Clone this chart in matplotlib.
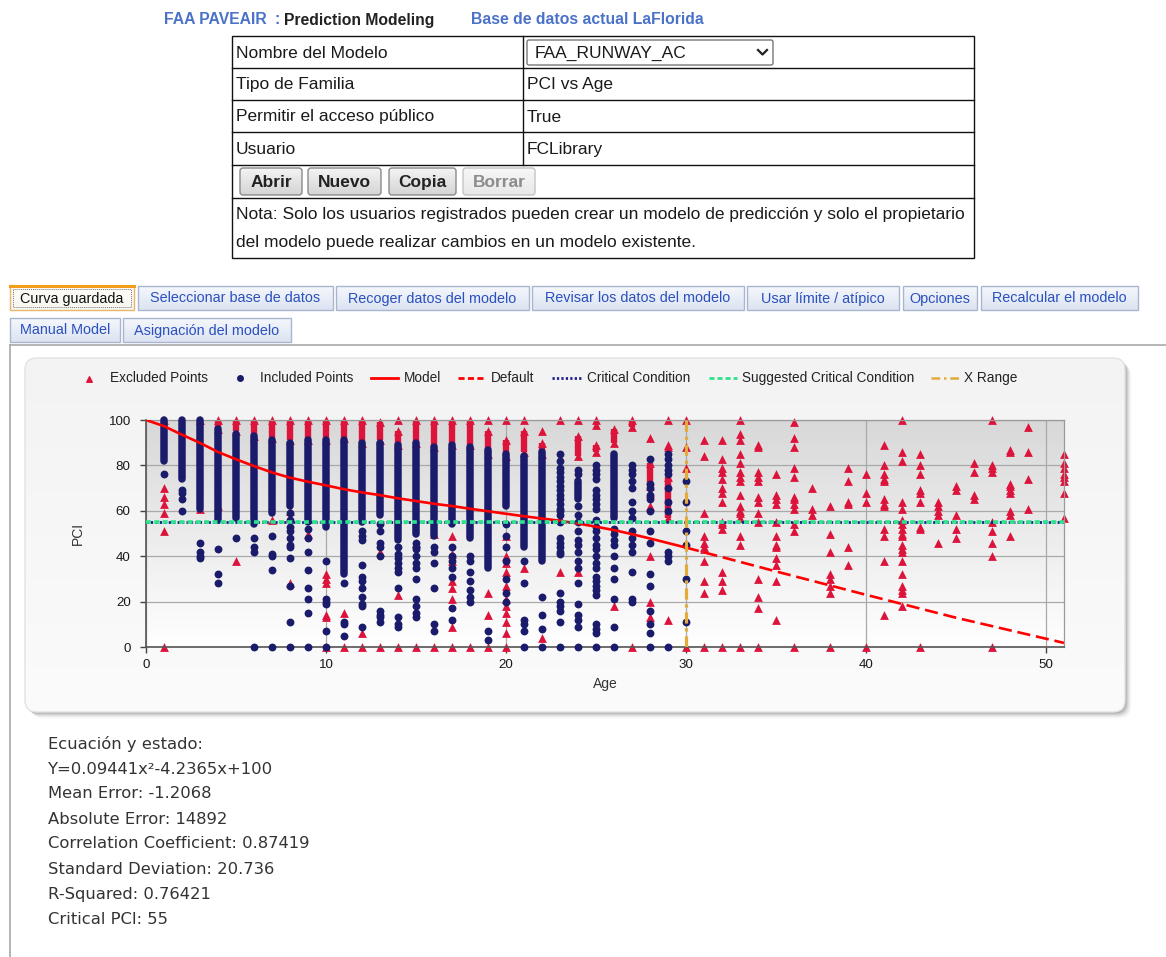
import matplotlib

matplotlib.use("Agg")
import matplotlib.pyplot as plt
import numpy as np
from matplotlib.colors import LinearSegmentedColormap
from matplotlib.patches import FancyBboxPatch, Rectangle

W, H = 1166, 957

plt.rcParams["font.family"] = ["Liberation Sans", "DejaVu Sans"]

# ---------------------------------------------------------------- data
model_age = list(range(0, 31))
model_pci = [100, 97.3, 93.5, 89.9, 85.9, 82.7, 79.7, 76.9, 74.6, 72.8, 71.2,
             69.5, 68.1, 66.9, 65.5, 64.3, 63.1, 62.1, 60.9, 59.8, 58.7,
             57.6, 56.6, 55.6, 54.4, 53.0, 51.5, 49.7, 47.8, 45.8, 43.8]
default_age = [30, 35, 40, 45, 51]
default_pci = [43.8, 33.3, 23.0, 12.9, 1.8]
critical_pci = 55
suggested_pci = 55
x_range_age = 30

# included points: tightly packed runs (age, low, high) plus single points
inc_band_age = [1, 2, 3, 4, 5, 6, 7, 8, 9, 10, 11, 12, 13, 14, 15, 16, 17, 18,
                19, 20, 21, 22, 24, 26]
inc_band_lo = [82, 74, 61, 56, 57, 54, 59, 62, 55, 53, 32, 55, 58, 47, 50, 49,
               54, 48, 35, 62, 44, 38, 65, 57]
inc_band_hi = [100, 100, 100, 96, 94, 93, 91, 90, 91, 91, 91, 90, 90, 89, 90,
               88, 89, 88, 87, 85, 84, 86, 73, 85]
inc_points = {
    1: [76],
    2: [69, 68, 65, 60],
    3: [46, 42, 40, 39],
    4: [43, 32, 28],
    5: [48],
    6: [48, 44, 42, 0],
    7: [49, 41, 40, 34, 0],
    8: [59, 56, 53, 51, 48, 45, 44, 39, 27, 11, 0],
    9: [52, 48, 42, 34, 26, 21, 15, 0],
    10: [38, 21, 20, 19, 7, 0],
    11: [28, 11, 10, 5],
    12: [51, 49, 47, 36, 31, 29, 26, 22, 19, 18, 9],
    13: [54, 51, 46, 44, 40, 16, 14, 13, 11],
    14: [44, 41, 39, 37, 35, 33, 26, 13, 10, 9],
    15: [46, 44, 43, 40, 37, 35, 30, 21, 18, 15, 13],
    16: [44, 42, 37, 26, 10, 7],
    17: [44, 40, 38, 35, 31, 17, 12],
    18: [40, 38, 33, 29, 25, 22, 20],
    19: [7, 3],
    20: [54, 49, 44, 38, 30, 24, 20],
    21: [38, 28, 12, 10, 7, 0],
    22: [22, 14, 8, 0],
    23: [85, 82, 79, 77, 75, 73, 71, 69, 67, 65, 63, 61, 60, 58, 55, 48, 46,
         44, 42, 41, 24, 20, 18, 16, 11, 0],
    24: [78, 76, 62, 58, 55, 51, 47, 45, 42, 38, 35, 28, 19, 14, 12, 9, 0],
    25: [80, 78, 76, 74, 69, 67, 65, 63, 61, 56, 53, 51, 48, 45, 43, 40, 37,
         35, 31, 29, 27, 25, 23, 10, 8, 6, 0],
    26: [52, 50, 47, 45, 40, 35, 30, 21, 9, 0],
    27: [80, 78, 76, 73, 70, 64, 60, 57, 51, 48, 45, 42, 33, 21, 20],
    28: [83, 72, 70, 67, 65, 60, 51, 46, 32, 27, 16, 10, 6, 0],
    29: [85, 83, 80, 78, 76, 70, 64, 60, 42, 40, 38, 0],
    30: [73, 64, 51, 45, 30, 11],
}

# excluded points: runs near the top of the scale plus single points
exc_band_age = [4, 5, 6, 7, 8, 9, 10, 11, 12, 13, 14, 15, 16, 17, 18, 19, 20,
                21, 22, 24, 25, 26, 27, 28, 29]
exc_band_lo = [96, 95, 93, 92, 91, 91, 91, 92, 90, 91, 89, 90, 88, 89, 89, 85,
               84, 86, 85, 84, 86, 90, 97, 71, 57]
exc_band_hi = [100, 100, 100, 100, 100, 100, 100, 100, 100, 99, 95, 100, 100,
               100, 100, 95, 91, 95, 90, 93, 89, 96, 100, 81, 75]
exc_points = {
    1: [100, 70, 66, 63, 59, 51, 0],
    3: [100, 61],
    4: [62],
    5: [38],
    7: [56],
    8: [60, 28],
    9: [50],
    10: [32, 30, 28, 14, 13, 0],
    11: [15, 0],
    12: [6, 0],
    13: [42, 0],
    14: [100, 23, 0],
    15: [46, 0],
    16: [50, 0],
    17: [49, 41, 38, 29, 26, 21, 9, 0],
    18: [0],
    19: [100, 24, 14, 0],
    20: [100, 49, 40, 37, 33, 27, 21, 18, 15, 11, 6, 0],
    21: [100, 35],
    22: [95, 4],
    23: [100, 33],
    24: [100, 33],
    25: [100, 98],
    26: [18],
    27: [0],
    28: [92, 68, 62, 40, 20, 13],
    29: [100, 89, 88, 12],
    30: [100, 88, 79, 0],
    31: [91, 84, 59, 49, 46, 44, 43, 38, 29, 24, 0],
    32: [91, 83, 79, 77, 74, 70, 68, 64, 55, 54, 52, 33, 29, 25, 0],
    33: [100, 94, 91, 85, 81, 77, 75, 73, 67, 62, 60, 59, 57, 49, 45, 0],
    34: [89, 88, 77, 75, 73, 66, 64, 59, 55, 30, 22, 17, 0],
    35: [76, 67, 65, 63, 55, 49, 45, 44, 39, 36, 29, 12],
    36: [99, 92, 88, 79, 75, 66, 65, 63, 61, 54, 51, 0],
    37: [70, 61, 58],
    38: [62, 50, 42, 32, 30, 27, 24, 0],
    39: [79, 73, 64, 63, 44, 36],
    40: [76, 68, 64, 0],
    41: [89, 80, 76, 74, 73, 65, 63, 62, 52, 49, 38, 14],
    42: [100, 86, 82, 64, 61, 56, 54, 52, 50, 49, 45, 43, 42, 38, 32, 27, 25,
         24, 18],
    43: [85, 80, 76, 69, 68, 64, 53, 52, 0],
    44: [64, 62, 60, 58, 46],
    45: [71, 69, 58, 52, 48],
    46: [81, 77, 67, 65],
    47: [100, 80, 79, 77, 55, 51, 46, 40, 0],
    48: [87, 86, 72, 71, 69, 68, 60, 58, 49],
    49: [97, 86, 74, 61],
    51: [85, 81, 79, 76, 75, 73, 68, 57],
}

stats_lines = [
    "Ecuación y estado:",
    "Y=0.09441x²-4.2365x+100",
    "Mean Error: -1.2068",
    "Absolute Error: 14892",
    "Correlation Coefficient: 0.87419",
    "Standard Deviation: 20.736",
    "R-Squared: 0.76421",
    "Critical PCI: 55",
]

table_labels = ["Nombre del Modelo", "Tipo de Familia",
                "Permitir el acceso público", "Usuario"]
table_values = ["FAA_RUNWAY_AC", "PCI vs Age", "True", "FCLibrary"]
button_labels = ["Abrir", "Nuevo", "Copia", "Borrar"]
note_lines = [
    "Nota: Solo los usuarios registrados pueden crear un modelo de predicción y solo el propietario",
    "del modelo puede realizar cambios en un modelo existente.",
]
tabs_row1 = ["Curva guardada", "Seleccionar base de datos",
             "Recoger datos del modelo", "Revisar los datos del modelo",
             "Usar límite / atípico", "Opciones", "Recalcular el modelo"]
tabs_row2 = ["Manual Model", "Asignación del modelo"]

EXC = "#dc143c"
INC = "#1b1b6b"
MODEL = "#ff0000"
GREEN = "#2ee38c"
GOLD = "#e2ab3b"
TAB_BLUE = "#2b50c0"


def flatten(points):
    ages = [a for a, vals in points.items() for _ in vals]
    pcis = [p for vals in points.values() for p in vals]
    return ages, pcis


def gradient(ax, extent, top, bottom, zorder, clip=None):
    cmap = LinearSegmentedColormap.from_list("g", [top, bottom])
    im = ax.imshow(np.linspace(0, 1, 256)[:, None], extent=extent, cmap=cmap,
                   aspect="auto", origin="upper", zorder=zorder,
                   interpolation="bilinear")
    if clip is not None:
        im.set_clip_path(clip)
    return im


fig = plt.figure(figsize=(W / 100, H / 100), dpi=100)
fig.patch.set_facecolor("white")
page = fig.add_axes([0, 0, 1, 1])
page.axis("off")

# ---------------------------------------------------------------- header
hdr = dict(fontsize=11.3, fontweight="bold", va="center")
page.text(164, 20, "FAA PAVEAIR", color="#4a72c9", **hdr)
page.text(275, 20, ":", color="#4a72c9", **hdr)
page.text(284, 20, "Prediction Modeling", color="#222222", **hdr)
page.text(471, 20, "Base de datos actual LaFlorida", color="#4a72c9", **hdr)

# ---------------------------------------------------------------- table
row_edges = [36, 68, 100, 132, 165, 198, 258]
page.add_patch(Rectangle((232, 36), 742, 222, fc="white", ec="#111", lw=1))
for y in row_edges[1:-1]:
    page.plot([232, 974], [y, y], color="#111", lw=1)
page.plot([523, 523], [36, 165], color="#111", lw=1)

cell = dict(fontsize=12.5, color="#1a1a1a", va="center")
for i, (lab, val) in enumerate(zip(table_labels, table_values)):
    yc = (row_edges[i] + row_edges[i + 1]) / 2 + 1
    page.text(236, yc, lab, **cell)
    if i == 0:
        page.add_patch(FancyBboxPatch((527, 40), 246, 25,
                                      boxstyle="round,pad=0,rounding_size=2",
                                      fc="white", ec="#777", lw=1))
        page.text(535, yc, val, **cell)
        page.plot([758, 762.5, 767], [50, 54.5, 50], color="#222", lw=1.6)
    else:
        page.text(527, yc, val, **cell)

btn_x = [(240, 302), (308, 381), (389, 456), (463, 535)]
for (x0, x1), lab in zip(btn_x, button_labels):
    off = lab == "Borrar"
    patch = FancyBboxPatch((x0, 168), x1 - x0, 27,
                           boxstyle="round,pad=0,rounding_size=3",
                           fc="none", ec="#c4c4c4" if off else "#8a8a8a", lw=1,
                           zorder=3)
    page.add_patch(patch)
    gradient(page, (x0, x1, 195, 168), "#f7f7f7" if off else "#f4f4f4",
             "#e8e8e8" if off else "#d4d4d4", 2, clip=patch)
    page.text((x0 + x1) / 2, 182.5, lab, fontsize=12.5, fontweight="bold",
              color="#8c8c8c" if off else "#222", ha="center", va="center",
              zorder=4)

for y, line in zip([215, 242], note_lines):
    page.text(236, y, line, **cell)

# ---------------------------------------------------------------- tabs
tab1_x = [(10, 134), (138, 333), (336, 529), (532, 744), (747, 899),
          (903, 977), (981, 1138)]
tab2_x = [(10, 120), (123, 291)]
for row_y, xs, labels in [(286, tab1_x, tabs_row1), (318, tab2_x, tabs_row2)]:
    for k, ((x0, x1), lab) in enumerate(zip(xs, labels)):
        active = row_y == 286 and k == 0
        patch = Rectangle((x0, row_y), x1 - x0, 24, fc="none",
                          ec="#e9b66a" if active else "#a9b6cf", lw=1,
                          zorder=3)
        page.add_patch(patch)
        if active:
            gradient(page, (x0, x1, row_y + 24, row_y), "#fffdf6", "#f6f6f2",
                     2, clip=patch)
            page.plot([x0, x1], [row_y, row_y], color="#f29d1a", lw=2.2,
                      zorder=4)
            page.add_patch(Rectangle((x0 + 3, row_y + 3), x1 - x0 - 6, 18,
                                     fc="none", ec="#777", lw=0.7,
                                     ls=(0, (1, 1)), zorder=4))
        else:
            gradient(page, (x0, x1, row_y + 24, row_y), "#f5f7fc", "#dce4f2",
                     2, clip=patch)
        page.text((x0 + x1) / 2, row_y + 12.5, lab, fontsize=10.4,
                  color="#111" if active else TAB_BLUE, ha="center",
                  va="center", zorder=5)

page.plot([10, W], [345, 345], color="#a8a8a8", lw=1.2)
page.plot([10, 10], [345, H], color="#a8a8a8", lw=1.2)

# ---------------------------------------------------------------- chart card
card_x, card_y, card_w, card_h = 25, 358, 1100, 354
for k, a in enumerate([0.10, 0.08, 0.06, 0.045, 0.03, 0.02]):
    page.add_patch(FancyBboxPatch((card_x + 1.5 + k, card_y + 1.5 + k),
                                  card_w, card_h,
                                  boxstyle="round,pad=0,rounding_size=12",
                                  fc="black", ec="none", alpha=a, zorder=1))
card = FancyBboxPatch((card_x, card_y), card_w, card_h,
                      boxstyle="round,pad=0,rounding_size=12",
                      fc="none", ec="#e2e2e2", lw=1, zorder=3)
page.add_patch(card)
gradient(page, (card_x, card_x + card_w, card_y + card_h, card_y),
         "#f3f3f3", "#fbfbfb", 2, clip=card)

# legend row
ly = 378
leg_txt = dict(fontsize=9.8, color="#222", va="center", zorder=5)
page.scatter([89], [ly + 0.5], marker="^", s=16, color=EXC, zorder=5)
page.text(110, ly, "Excluded Points", **leg_txt)
page.scatter([240], [ly], marker="o", s=16, color=INC, zorder=5)
page.text(260, ly, "Included Points", **leg_txt)
page.plot([371, 398], [ly, ly], color=MODEL, lw=2, zorder=5)
page.text(404, ly, "Model", **leg_txt)
page.plot([458, 486], [ly, ly], color=MODEL, lw=2, ls=(0, (2.2, 1.2)),
          zorder=5)
page.text(491, ly, "Default", **leg_txt)
page.plot([552, 582], [ly, ly], color="#1e1e8c", lw=2, ls=(0, (0.8, 0.8)),
          zorder=5)
page.text(587, ly, "Critical Condition", **leg_txt)
page.plot([709, 737], [ly, ly], color=GREEN, lw=2, ls=(0, (1.8, 1.1)),
          zorder=5)
page.text(742, ly, "Suggested Critical Condition", **leg_txt)
page.plot([931, 960], [ly, ly], color=GOLD, lw=1.8,
          ls=(0, (3.5, 1.5, 1, 1.5)), zorder=5)
page.text(964, ly, "X Range", **leg_txt)

page.text(78, 533, "PCI", fontsize=10, color="#333", rotation=90,
          ha="center", va="center")
page.text(605, 684, "Age", fontsize=10, color="#333", ha="center",
          va="center")

# ---------------------------------------------------------------- stats text
for i, line in enumerate(stats_lines):
    page.text(48, 744 + i * 25, line, fontsize=11.8, color="#333",
              family="DejaVu Sans", va="center")

page.set_xlim(0, W)
page.set_ylim(H, 0)

# ---------------------------------------------------------------- scatter plot
ax = fig.add_axes([146 / W, 1 - 647 / H, 918 / W, 227 / H])
ax.set_xlim(0, 51)
ax.set_ylim(0, 100)
gradient(ax, (0, 51, 0, 100), "#d8d8d8", "#ffffff", 0)
ax.set_xlim(0, 51)
ax.set_ylim(0, 100)

ax.set_xticks(range(0, 51, 10))
ax.set_yticks(range(0, 101, 20))
ax.grid(True, color="#a9a9a9", lw=0.9)
ax.set_axisbelow(True)
for side in ["left", "bottom"]:
    ax.spines[side].set_color("#555")
    ax.spines[side].set_linewidth(1.2)
for side in ["top", "right"]:
    ax.spines[side].set_color("#9a9a9a")
    ax.spines[side].set_linewidth(0.9)
ax.tick_params(direction="out", length=4, width=1, color="#444",
               labelsize=9.6, labelcolor="#1a1a1a")
ax.tick_params(axis="y", pad=7)
ax.tick_params(axis="x", pad=5)

band = ax.vlines(exc_band_age, exc_band_lo, exc_band_hi, color=EXC, lw=4.6,
                 zorder=2)
band.set_clip_on(False)
ax.scatter(exc_band_age + exc_band_age, exc_band_lo + exc_band_hi,
           marker="^", s=40, color=EXC, lw=0, zorder=2, clip_on=False)
ex_a, ex_p = flatten(exc_points)
ax.scatter(ex_a, ex_p, marker="^", s=40, color=EXC, lw=0, zorder=2,
           clip_on=False)

band = ax.vlines(inc_band_age, inc_band_lo, inc_band_hi, color=INC, lw=5.4,
                 zorder=3)
band.set_capstyle("round")
band.set_clip_on(False)
in_a, in_p = flatten(inc_points)
ax.scatter(in_a, in_p, marker="o", s=32, color=INC, lw=0, zorder=3,
           clip_on=False)

ax.plot(model_age, model_pci, color=MODEL, lw=1.9, zorder=5)
ax.plot(default_age, default_pci, color=MODEL, lw=1.9, ls=(0, (5, 2.2)),
        zorder=5)
ax.axhline(critical_pci, color="#1e1e8c", lw=2, ls=(0, (0.8, 0.8)), zorder=5)
ax.axhline(suggested_pci, color=GREEN, lw=2.6, ls=(0, (1.4, 0.9)), zorder=6)
ax.axvline(x_range_age, color=GOLD, lw=2.3, ls=(0, (3.5, 1.5, 1, 1.5)),
           zorder=7)

fig.savefig("out.png", dpi=100, facecolor="white")
plt.close(fig)
